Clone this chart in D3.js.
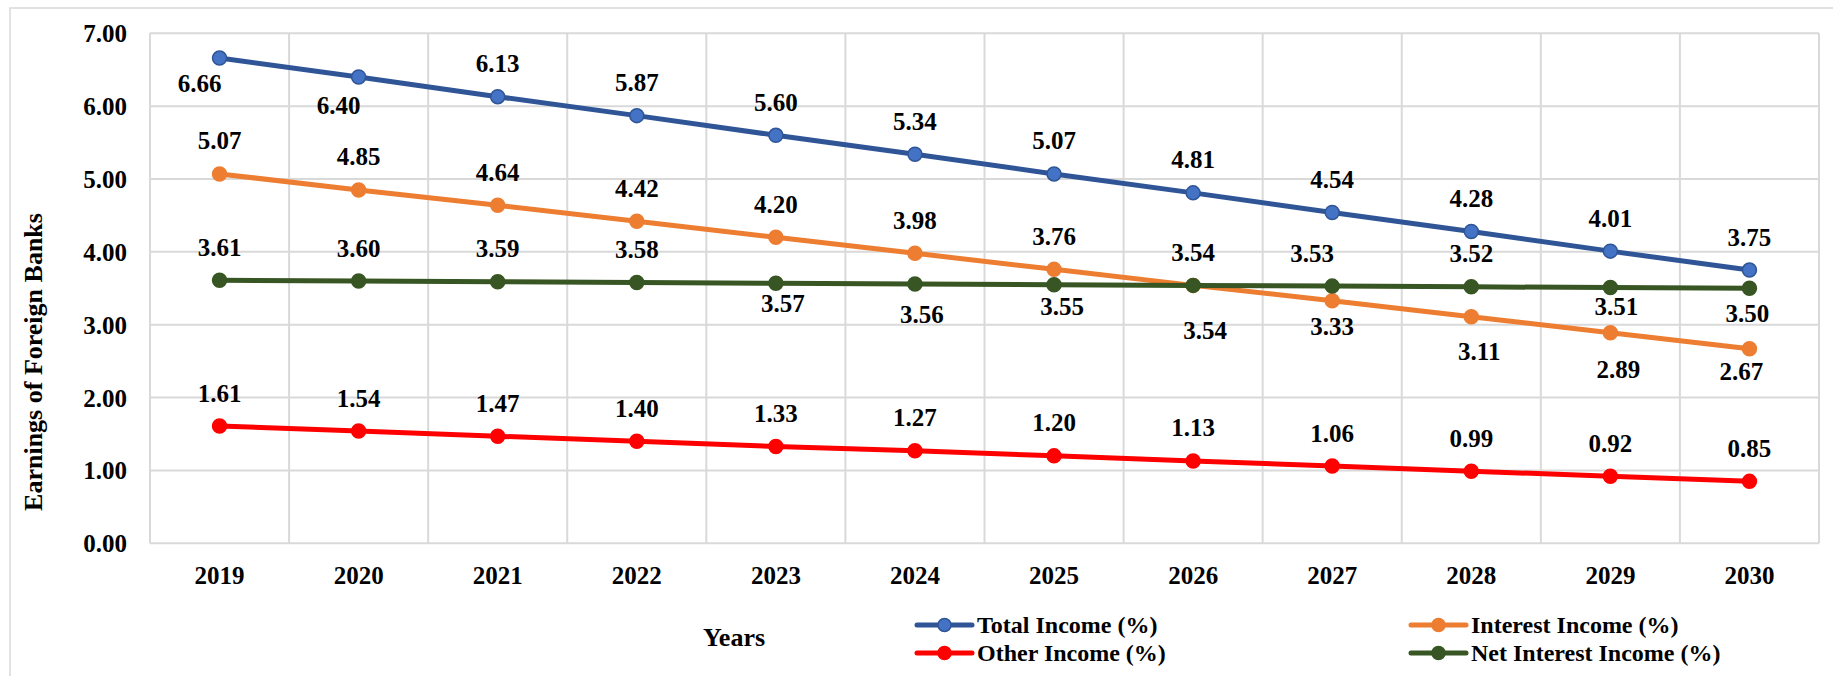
<!DOCTYPE html>
<html>
<head>
<meta charset="utf-8">
<script src="https://cdn.jsdelivr.net/npm/d3@7/dist/d3.min.js"></script>
<style>
  html, body { margin: 0; padding: 0; background: #fff; }
  svg { display: block; }
</style>
</head>
<body>
<svg id="chart" width="1833" height="676"></svg>
<script>
// ---- data ----
const years = ["2019","2020","2021","2022","2023","2024","2025","2026","2027","2028","2029","2030"];
const totalIncome = [6.66, 6.40, 6.13, 5.87, 5.60, 5.34, 5.07, 4.81, 4.54, 4.28, 4.01, 3.75];
const interestIncome = [5.07, 4.85, 4.64, 4.42, 4.20, 3.98, 3.76, 3.54, 3.33, 3.11, 2.89, 2.67];
const otherIncome = [1.61, 1.54, 1.47, 1.40, 1.33, 1.27, 1.20, 1.13, 1.06, 0.99, 0.92, 0.85];
const netInterestIncome = [3.61, 3.60, 3.59, 3.58, 3.57, 3.56, 3.55, 3.54, 3.53, 3.52, 3.51, 3.50];
const yTicks = [0, 1, 2, 3, 4, 5, 6, 7];
const seriesNames = ["Total Income (%)", "Interest Income (%)", "Other Income (%)", "Net Interest Income (%)"];
const yTitle = "Earnings of Foreign Banks";
const xTitle = "Years";

// ---- label placement (layout, not data): a = above, b = below ----
const placeTotal    = ["b","b","a","a","a","a","a","a","a","a","a","a"];
const placeInterest = ["a","a","a","a","a","a","a","b","b","b","b","b"];
const placeOther    = ["a","a","a","a","a","a","a","a","a","a","a","a"];
const placeNet      = ["a","a","a","a","b","b","b","a","a","a","b","b"];
// fine nudges [dx, dy] for individual labels, keyed series:index
const nudge = {
  "0:0": [-20, 25], "0:1": [-20, 28],
  "1:7": [12, 45], "1:8": [0, 26], "1:9": [8, 35], "1:10": [8, 37], "1:11": [-8, 23],
  "3:4": [7, 20], "3:5": [7, 31], "3:6": [8, 22], "3:8": [-20, -33], "3:10": [6, 19], "3:11": [-2, 25]
};

const FONT = '"Liberation Serif", "Times New Roman", Tinos, "DejaVu Serif", serif';

const series = [
  { name: seriesNames[0], values: totalIncome, place: placeTotal, line: "#2F5597", fill: "#4472C4", stroke: "#2F5597" },
  { name: seriesNames[1], values: interestIncome, place: placeInterest, line: "#ED7D31", fill: "#ED7D31", stroke: "#ED7D31" },
  { name: seriesNames[2], values: otherIncome, place: placeOther, line: "#FF0000", fill: "#FF0000", stroke: "#FF0000" },
  { name: seriesNames[3], values: netInterestIncome, place: placeNet, line: "#375623", fill: "#375623", stroke: "#375623" }
];

const svg = d3.select("#chart");
const W = 1833, H = 676;
const plot = { left: 150, right: 1819, top: 33.3, bottom: 543.3 };

function styleText(sel, size) {
  sel.style("font-family", FONT).style("font-weight", "bold").style("font-size", size + "px").style("fill", "#000");
}

// outer chart border
svg.append("rect").attr("x", 10).attr("y", 8).attr("width", W).attr("height", H)
  .attr("fill", "none").attr("stroke", "#D9D9D9").attr("stroke-width", 1.5);

const x = d3.scaleBand().domain(years).range([plot.left, plot.right]).padding(0);
const y = d3.scaleLinear().domain([0, 7]).range([plot.bottom, plot.top]);
const cx = d => x(d) + x.bandwidth() / 2;

// gridlines
const grid = svg.append("g");
grid.selectAll("line.h").data(yTicks).join("line")
  .attr("x1", plot.left).attr("x2", plot.right)
  .attr("y1", d => y(d)).attr("y2", d => y(d))
  .attr("stroke", "#D9D9D9").attr("stroke-width", 2);
const bounds = years.map(d => x(d)).concat([plot.right]);
grid.selectAll("line.v").data(bounds).join("line")
  .attr("x1", d => d).attr("x2", d => d)
  .attr("y1", plot.top).attr("y2", plot.bottom)
  .attr("stroke", "#D9D9D9").attr("stroke-width", 2);

// y axis labels
const yAxis = d3.axisLeft(y).tickValues(yTicks).tickFormat(d3.format(".2f")).tickSize(0).tickPadding(23);
const yg = svg.append("g").attr("transform", `translate(${plot.left},0)`).call(yAxis);
yg.select(".domain").remove();
styleText(yg.selectAll("text").attr("dy", "0.34em"), 25);

// x axis labels
const xAxis = d3.axisBottom(x).tickSize(0).tickPadding(0);
const xg = svg.append("g").attr("transform", `translate(0,${plot.bottom})`).call(xAxis);
xg.select(".domain").remove();
styleText(xg.selectAll("text").attr("y", 32).attr("dy", "0.34em"), 25);

// lines, markers
const lineGen = d3.line().x((d, i) => cx(years[i])).y(d => y(d));
series.forEach((s) => {
  const g = svg.append("g");
  g.append("path").datum(s.values).attr("d", lineGen)
    .attr("fill", "none").attr("stroke", s.line).attr("stroke-width", 5).attr("stroke-linejoin", "round");
  g.selectAll("circle").data(s.values).join("circle")
    .attr("cx", (d, i) => cx(years[i])).attr("cy", d => y(d)).attr("r", 7)
    .attr("fill", s.fill).attr("stroke", s.stroke).attr("stroke-width", 1.5);
});
// data labels
series.forEach((s, si) => {
  const t = svg.append("g").selectAll("text").data(s.values).join("text")
    .attr("x", (d, i) => cx(years[i]) + (nudge[si + ":" + i] ? nudge[si + ":" + i][0] : 0))
    .attr("y", (d, i) => y(d) + (nudge[si + ":" + i] ? nudge[si + ":" + i][1] : (s.place[i] === "a" ? -33 : 27)))
    .attr("dy", "0.34em").attr("text-anchor", "middle")
    .text(d => d.toFixed(2));
  styleText(t, 25);
});

// axis titles
styleText(svg.append("text").attr("transform", "translate(33,362) rotate(-90)")
  .attr("text-anchor", "middle").attr("dy", "0.34em").text(yTitle), 26);
styleText(svg.append("text").attr("x", 734).attr("y", 637)
  .attr("text-anchor", "middle").attr("dy", "0.34em").text(xTitle), 26);

// legend
const legendPos = [[917, 625], [1411, 625], [917, 653], [1411, 653]];
series.forEach((s, si) => {
  const [lx, ly] = legendPos[si];
  const g = svg.append("g");
  g.append("line").attr("x1", lx).attr("x2", lx + 55).attr("y1", ly).attr("y2", ly)
    .attr("stroke", s.line).attr("stroke-width", 5).attr("stroke-linecap", "round");
  g.append("circle").attr("cx", lx + 27.5).attr("cy", ly).attr("r", 6.5)
    .attr("fill", s.fill).attr("stroke", s.stroke).attr("stroke-width", 1.5);
  styleText(g.append("text").attr("x", lx + 60).attr("y", ly).attr("dy", "0.34em").text(s.name), 24);
});
</script>
</body>
</html>
